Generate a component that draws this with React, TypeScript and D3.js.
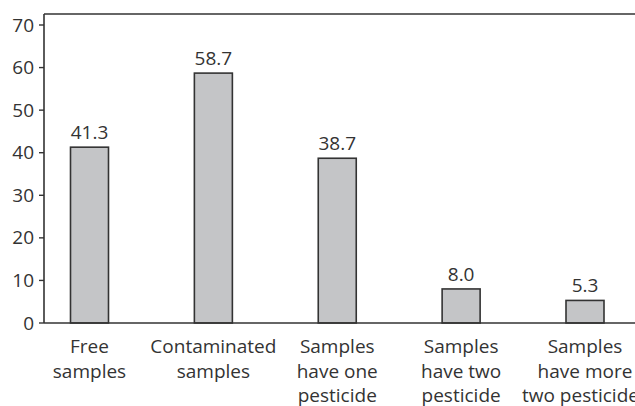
import { useRef, useEffect } from "react";
import * as d3 from "d3";

const CATEGORIES = ["free", "contaminated", "one", "two", "more"];
const CATEGORY_LINES: string[][] = [
  ["Free", "samples"],
  ["Contaminated", "samples"],
  ["Samples", "have one", "pesticide"],
  ["Samples", "have two", "pesticide"],
  ["Samples", "have more", "two pesticides"],
];
const VALUES = [41.3, 58.7, 38.7, 8.0, 5.3];
const Y_TICKS = [0, 10, 20, 30, 40, 50, 60, 70];

const WIDTH = 635;
const HEIGHT = 406;
const FONT = "'Open Sans', 'DejaVu Sans', sans-serif";
const FS = 19;
const INK = "#333";

export default function App() {
  const svgRef = useRef<SVGSVGElement>(null);

  useEffect(() => {
    if (!svgRef.current) return;
    const svg = d3.select(svgRef.current);
    svg.selectAll("*").remove();

    const left = 44;
    const bottom = 323;
    const y = d3.scaleLinear().domain([0, 70]).range([bottom, 25]);
    const x = d3.scalePoint<string>().domain(CATEGORIES).range([89.5, 585]);
    const barW = 38;

    // frame: top line and axes
    svg.append("line")
      .attr("x1", left).attr("x2", WIDTH)
      .attr("y1", 14).attr("y2", 14)
      .attr("stroke", INK).attr("stroke-width", 1.6);
    svg.append("line")
      .attr("x1", left).attr("x2", left)
      .attr("y1", 14).attr("y2", bottom)
      .attr("stroke", INK).attr("stroke-width", 1.6);

    // y ticks
    const ticks = svg.append("g");
    Y_TICKS.forEach((t) => {
      ticks.append("line")
        .attr("x1", left - 5).attr("x2", left)
        .attr("y1", y(t)).attr("y2", y(t))
        .attr("stroke", INK).attr("stroke-width", 1.4);
      ticks.append("text")
        .attr("x", left - 10).attr("y", y(t) + 6.5)
        .attr("text-anchor", "end")
        .attr("font-family", FONT).attr("font-size", FS)
        .attr("fill", INK)
        .text(t);
    });

    // bars
    const data = CATEGORIES.map((c, i) => ({ c, v: VALUES[i], lines: CATEGORY_LINES[i] }));
    svg.selectAll(".bar")
      .data(data)
      .enter()
      .append("rect")
      .attr("class", "bar")
      .attr("x", (d) => (x(d.c) ?? 0) - barW / 2)
      .attr("y", (d) => y(d.v))
      .attr("width", barW)
      .attr("height", (d) => bottom - y(d.v))
      .attr("fill", "#c4c5c7")
      .attr("stroke", INK)
      .attr("stroke-width", 1.6);

    svg.selectAll(".val")
      .data(data)
      .enter()
      .append("text")
      .attr("class", "val")
      .attr("x", (d) => x(d.c) ?? 0)
      .attr("y", (d) => y(d.v) - 8)
      .attr("text-anchor", "middle")
      .attr("font-family", FONT).attr("font-size", FS)
      .attr("fill", INK)
      .text((d) => d.v.toFixed(1));

    // x axis line
    svg.append("line")
      .attr("x1", left).attr("x2", WIDTH)
      .attr("y1", bottom).attr("y2", bottom)
      .attr("stroke", INK).attr("stroke-width", 1.6);

    // category labels
    const labels = svg.selectAll(".cat")
      .data(data)
      .enter()
      .append("text")
      .attr("class", "cat")
      .attr("text-anchor", "middle")
      .attr("font-family", FONT).attr("font-size", FS)
      .attr("fill", INK);
    labels.each(function (d) {
      const t = d3.select(this);
      d.lines.forEach((line, j) => {
        t.append("tspan")
          .attr("x", x(d.c) ?? 0)
          .attr("y", 353 + j * 24.5)
          .text(line);
      });
    });
  }, []);

  return (
    <div style={{ position: "fixed", left: 0, top: 0, background: "#fff" }}>
      <svg ref={svgRef} width={WIDTH} height={HEIGHT} style={{ display: "block" }} />
    </div>
  );
}
